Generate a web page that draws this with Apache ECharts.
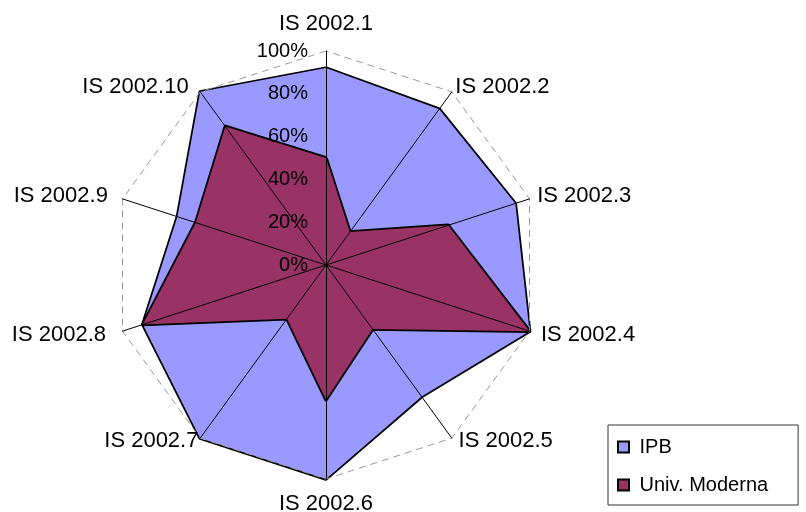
<!DOCTYPE html>
<html>
<head>
<meta charset="utf-8">
<script src="https://cdn.jsdelivr.net/npm/echarts@6/dist/echarts.min.js"></script>
<style>
  html, body { margin: 0; padding: 0; background: #fff; }
  #main { width: 806px; height: 512px; }
</style>
</head>
<body>
<div id="main"></div>
<script>
// categories clockwise from top, as in the picture
var categories = ['IS 2002.1', 'IS 2002.2', 'IS 2002.3', 'IS 2002.4', 'IS 2002.5',
                  'IS 2002.6', 'IS 2002.7', 'IS 2002.8', 'IS 2002.9', 'IS 2002.10'];
var ipb = [0.92, 0.90, 0.93, 1.00, 0.76, 1.00, 1.00, 0.90, 0.73, 1.00];
var moderna = [0.50, 0.19, 0.60, 1.00, 0.37, 0.63, 0.31, 0.90, 0.64, 0.80];
var seriesNames = ['IPB', 'Univ. Moderna'];

// label spacing per axis (excel puts names a bit unevenly)
var nameGaps = [16, 6, 8, 12, 3, 14, 3, 12, 8, 6];
var namePads = [0, 0, 0, 0, [0, 0, 0, 5], 0, 0, [0, 5, 0, 0], [0, 7, 0, 0], [0, 8, 0, 0]];

// echarts places indicators counter-clockwise, so walk the list backwards after the first
var order = [0];
for (var i = categories.length - 1; i > 0; i--) order.push(i);
function pick(arr) { return order.map(function (k) { return arr[k]; }); }

var font = 'Liberation Sans, Arial, sans-serif';

var indicators = order.map(function (k, idx) {
  var ind = {
    name: categories[k], min: 0, max: 1,
    nameGap: nameGaps[k],
    nameTextStyle: { padding: namePads[k] }
  };
  if (idx === 0) {
    ind.axisLabel = {
      show: true,
      formatter: function (v) { return Math.round(v * 100) + '%'; },
      color: '#000',
      fontSize: 20,
      fontFamily: font,
      margin: 18
    };
  }
  return ind;
});

var myChart = echarts.init(document.getElementById('main'));
myChart.setOption({
  backgroundColor: '#fff',
  animation: false,
  legend: {
    left: 608,
    top: 425,
    orient: 'vertical',
    data: seriesNames,
    icon: 'rect',
    itemWidth: 11,
    itemHeight: 11,
    itemGap: 18,
    padding: [12, 30, 10, 9],
    borderColor: '#333',
    borderWidth: 1,
    formatter: function (n) { return ' ' + n; },
    textStyle: { color: '#000', fontSize: 20, fontFamily: font }
  },
  radar: {
    center: [326, 265],
    radius: 214,
    startAngle: 90,
    splitNumber: 5,
    shape: 'polygon',
    z: 5,
    indicator: indicators,
    axisName: { color: '#000', fontSize: 22, fontFamily: font },
    nameGap: 11,
    axisLine: { lineStyle: { color: '#000', width: 1 } },
    splitLine: {
      lineStyle: {
        color: ['transparent', 'transparent', 'transparent', 'transparent', 'transparent', '#999'],
        type: [7, 5],
        width: 1
      }
    },
    splitArea: { show: false }
  },
  series: [{
    type: 'radar',
    z: 1,
    symbol: 'none',
    // the filled area covers the inner half of the outline, so go wider
    lineStyle: { color: '#000', width: 3.5 },
    data: [
      {
        name: seriesNames[0],
        value: pick(ipb),
        itemStyle: { color: '#9999FF', borderColor: '#000', borderWidth: 1 },
        lineStyle: { color: '#000', width: 3.5 },
        areaStyle: { color: '#9999FF', opacity: 1 }
      },
      {
        name: seriesNames[1],
        value: pick(moderna),
        itemStyle: { color: '#993366', borderColor: '#000', borderWidth: 1 },
        lineStyle: { color: '#000', width: 3.5 },
        areaStyle: { color: '#993366', opacity: 1 }
      }
    ]
  }]
});
</script>
</body>
</html>
